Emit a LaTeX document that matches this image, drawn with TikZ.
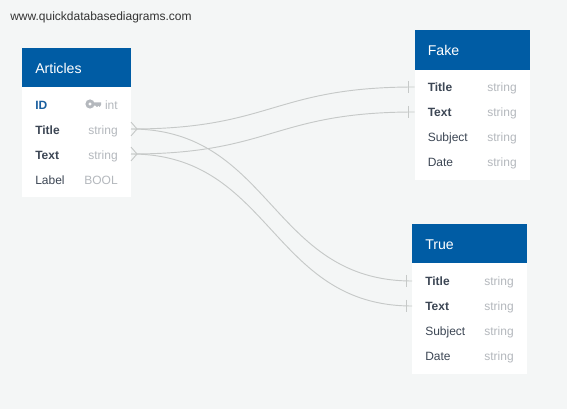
\documentclass[tikz,border=0pt]{standalone}
\usepackage{fontspec}
\setmainfont{Liberation Sans}
\definecolor{bgc}{HTML}{F4F6F6}
\definecolor{hdr}{HTML}{005CA4}
\definecolor{txt}{HTML}{3C4654}
\definecolor{typ}{HTML}{B4B8BD}
\definecolor{idc}{HTML}{1A5F9F}
\definecolor{lnk}{HTML}{C6C9C8}
\tikzset{
  tablebody/.style={fill=white,draw=none,anchor=north west,inner sep=0,outer sep=0},
  tablehead/.style={fill=hdr,draw=none,anchor=north west,inner sep=0,outer sep=0},
  tabletitle/.style={anchor=base west,inner sep=0,text=white,font=\fontsize{10.6}{12}\selectfont},
  rowslot/.style={draw=none,fill=none,inner sep=0,outer sep=0,minimum height=18.75pt,anchor=west},
  fname/.style={anchor=base west,inner sep=0,text=txt,font=\fontsize{9}{11}\selectfont},
  fbold/.style={fname,font=\fontsize{9}{11}\selectfont\bfseries},
  ftype/.style={anchor=base east,inner sep=0,text=typ,font=\fontsize{9}{11}\selectfont},
  linkline/.style={draw=lnk,line width=0.7pt},
  endmark/.style={draw=lnk,line width=0.7pt}
}
\begin{document}
\begin{tikzpicture}[x=0.75pt,y=-0.75pt]
\useasboundingbox[fill=bgc] (0,0) rectangle (567,409);
\node[anchor=base west,inner sep=0,text=black!80,font=\fontsize{9}{11}\selectfont] (site) at (10,20.5) {www.quickdatabasediagrams.com};

% Articles
\node[tablebody,minimum width=81.75pt,minimum height=111.75pt] (artbody) at (22,48) {};
\node[tablehead,minimum width=81.75pt,minimum height=29.25pt] (arthead) at (22,48) {};
\node[tabletitle] (arttitle) at (35,73.8) {Articles};
\node[rowslot,minimum width=81.75pt] (arttitlerow) at (22,129) {};
\node[rowslot,minimum width=81.75pt] (arttextrow) at (22,154) {};
\node[fname,text=idc,font=\fontsize{9}{11}\selectfont\bfseries] (artid) at (35,109.5) {ID};
\node[ftype] (artidt) at (118,109.5) {int};
\node[fbold] (artt) at (35,134.5) {Title};
\node[ftype] (arttt) at (118,134.5) {string};
\node[fbold] (artx) at (35,159.5) {Text};
\node[ftype] (artxt) at (118,159.5) {string};
\node[fname] (artl) at (35,184.5) {Label};
\node[ftype] (artlt) at (118,184.5) {BOOL};
% key icon
\fill[typ,even odd rule] (90,104) circle (4.6) (90,104) circle (1.8);
\fill[typ] (93,102.4) -- (101,102.4) -- (101,105) -- (99.5,107) -- (98.5,105.6) -- (97,107) -- (95.5,105.6) -- (93,105.6) -- cycle;

% Fake
\node[tablebody,minimum width=86.6pt,minimum height=112.5pt] (fakebody) at (414.5,30) {};
\node[tablehead,minimum width=86.6pt,minimum height=30pt] (fakehead) at (414.5,30) {};
\node[tabletitle] (faketitle) at (427.5,55.8) {Fake};
\node[rowslot,minimum width=86.6pt] (faketitlerow) at (414.5,87) {};
\node[rowslot,minimum width=86.6pt] (faketextrow) at (414.5,112) {};
\node[fbold] (faket) at (427.5,91.5) {Title};
\node[ftype] (fakett) at (517,91.5) {string};
\node[fbold] (fakex) at (427.5,116.5) {Text};
\node[ftype] (fakext) at (517,116.5) {string};
\node[fname] (fakes) at (427.5,141.5) {Subject};
\node[ftype] (fakest) at (517,141.5) {string};
\node[fname] (faked) at (427.5,166.5) {Date};
\node[ftype] (fakedt) at (517,166.5) {string};

% True
\node[tablebody,minimum width=86.6pt,minimum height=112.5pt] (truebody) at (412,224) {};
\node[tablehead,minimum width=86.6pt,minimum height=29.5pt] (truehead) at (412,224) {};
\node[tabletitle] (truetitle) at (425,249.8) {True};
\node[rowslot,minimum width=86.6pt] (truetitlerow) at (412,281) {};
\node[rowslot,minimum width=86.6pt] (truetextrow) at (412,306) {};
\node[fbold] (truet) at (425,285.5) {Title};
\node[ftype] (truett) at (514,285.5) {string};
\node[fbold] (truex) at (425,310.5) {Text};
\node[ftype] (truext) at (514,310.5) {string};
\node[fname] (trues) at (425,335.5) {Subject};
\node[ftype] (truest) at (514,335.5) {string};
\node[fname] (trued) at (425,360.5) {Date};
\node[ftype] (truedt) at (514,360.5) {string};

% connectors
\draw[linkline] (arttitlerow.east) .. controls +(141,0) and +(-141,0) .. (faketitlerow.west);
\draw[linkline] (arttextrow.east) .. controls +(141,0) and +(-141,0) .. (faketextrow.west);
\draw[linkline] (arttitlerow.east) .. controls +(141,0) and +(-141,0) .. (truetitlerow.west);
\draw[linkline] (arttextrow.east) .. controls +(141,0) and +(-141,0) .. (truetextrow.west);

% crow's feet
\foreach \n in {arttitlerow,arttextrow}{
  \draw[endmark] ([yshift=5.2pt]\n.east) -- ([xshift=4.5pt]\n.east) -- ([yshift=-5.2pt]\n.east);
}
% bars
\foreach \n in {faketitlerow,faketextrow,truetitlerow,truetextrow}{
  \draw[endmark] ([xshift=-4.5pt,yshift=4.5pt]\n.west) -- ([xshift=-4.5pt,yshift=-4.5pt]\n.west);
}
\end{tikzpicture}
\end{document}
